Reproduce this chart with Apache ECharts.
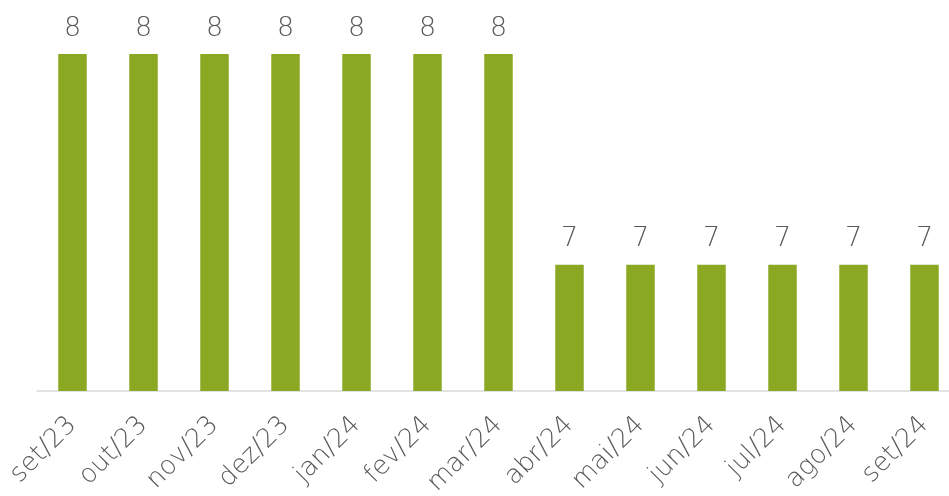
<!DOCTYPE html>
<html>
<head>
<meta charset="utf-8">
<script src="https://cdn.jsdelivr.net/npm/echarts@6/dist/echarts.min.js"></script>
<style>
html,body{margin:0;padding:0;background:#fff;}
#chart{width:949px;height:496px;}
</style>
</head>
<body>
<div id="chart"></div>
<script>
const categories = ['set/23','out/23','nov/23','dez/23','jan/24','fev/24','mar/24','abr/24','mai/24','jun/24','jul/24','ago/24','set/24'];
const values = [8,8,8,8,8,8,8,7,7,7,7,7,7];

const chart = echarts.init(document.getElementById('chart'), null, {renderer:'canvas'});
chart.setOption({
  animation: false,
  grid: {left: 37, width: 923, top: 54, height: 337, containLabel: false, outerBoundsMode: 'none'},
  xAxis: {
    type: 'category',
    data: categories,
    axisLine: {lineStyle: {color: '#D9D9D9', width: 1.5}},
    axisTick: {show: false},
    axisLabel: {
      rotate: 45, interval: 0, margin: 30,
      color: '#595959', fontSize: 26, fontFamily: 'DejaVu Sans', fontWeight: 200
    }
  },
  yAxis: {
    type: 'value', min: 6.4, max: 8,
    show: false,
    splitLine: {show: false}
  },
  series: [{
    type: 'bar',
    data: values,
    barWidth: 28.5,
    itemStyle: {color: '#8BA823'},
    label: {
      show: true, position: 'top', distance: 12,
      color: '#595959', fontSize: 27, fontFamily: 'DejaVu Sans', fontWeight: 200
    }
  }]
});
</script>
</body>
</html>
